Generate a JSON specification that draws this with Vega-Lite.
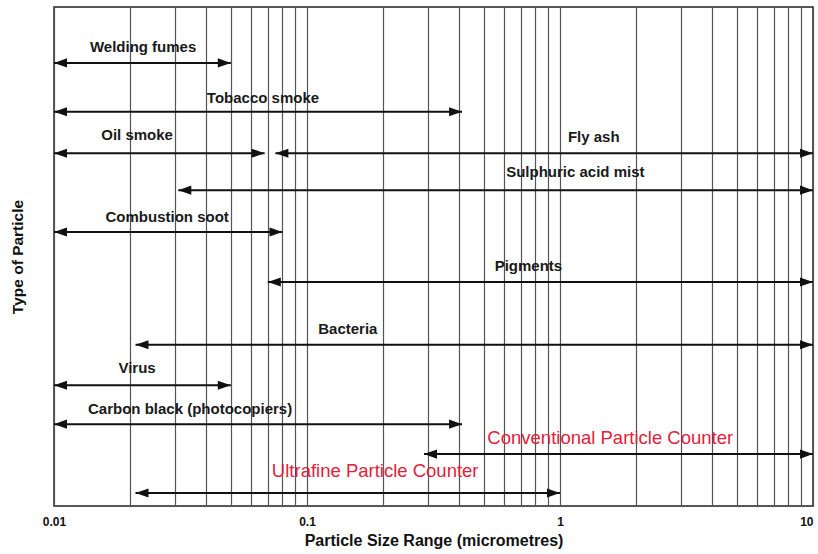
{
  "$schema": "https://vega.github.io/schema/vega-lite/v6.json",
  "width": 759,
  "height": 499,
  "autosize": "none",
  "padding": {"left": 54, "top": 7, "right": 5, "bottom": 48},
  "background": "white",
  "config": {
    "view": {"stroke": "#222", "strokeWidth": 1.5},
    "font": "Liberation Sans"
  },
  "data": {
    "values": [
      {"name": "Welding fumes", "kind": "particle", "start": 0.01, "end": 0.05, "row": 11.2, "lx": 0.0225, "ly": 8.0},
      {"name": "Tobacco smoke", "kind": "particle", "start": 0.01, "end": 0.41, "row": 21.0, "lx": 0.067, "ly": 18.2},
      {"name": "Oil smoke", "kind": "particle", "start": 0.01, "end": 0.068, "row": 29.3, "lx": 0.0213, "ly": 25.7},
      {"name": "Fly ash", "kind": "particle", "start": 0.075, "end": 10, "row": 29.3, "lx": 1.36, "ly": 26.1},
      {"name": "Sulphuric acid mist", "kind": "particle", "start": 0.031, "end": 10, "row": 36.7, "lx": 1.15, "ly": 33.1},
      {"name": "Combustion soot", "kind": "particle", "start": 0.01, "end": 0.08, "row": 45.1, "lx": 0.028, "ly": 42.1},
      {"name": "Pigments", "kind": "particle", "start": 0.07, "end": 10, "row": 55.1, "lx": 0.75, "ly": 51.9},
      {"name": "Bacteria", "kind": "particle", "start": 0.021, "end": 10, "row": 67.7, "lx": 0.145, "ly": 64.5},
      {"name": "Virus", "kind": "particle", "start": 0.01, "end": 0.05, "row": 75.8, "lx": 0.0213, "ly": 72.3},
      {"name": "Carbon black (photocopiers)", "kind": "particle", "start": 0.01, "end": 0.41, "row": 83.6, "lx": 0.0345, "ly": 80.6},
      {"name": "Conventional Particle Counter", "kind": "counter", "start": 0.29, "end": 10, "row": 89.6, "lx": 1.58, "ly": 86.4},
      {"name": "Ultrafine Particle Counter", "kind": "counter", "start": 0.021, "end": 1, "row": 97.4, "lx": 0.186, "ly": 93.0}
    ]
  },
  "layer": [
    {
      "mark": {"type": "rule", "color": "#111", "strokeWidth": 2},
      "encoding": {
        "x": {
          "field": "start", "type": "quantitative",
          "scale": {"type": "log", "domain": [0.01, 10], "nice": false},
          "axis": {
            "values": [0.01, 0.02, 0.03, 0.04, 0.05, 0.06, 0.07, 0.08, 0.09, 0.1, 0.2, 0.3, 0.4, 0.5, 0.6, 0.7, 0.8, 0.9, 1, 2, 3, 4, 5, 6, 7, 8, 9, 10],
            "labelExpr": "datum.value == 0.01 ? '0.01' : datum.value == 0.1 ? '0.1' : datum.value == 1 ? '1' : datum.value == 10 ? '10' : ''",
            "labelAlign": {"expr": "datum.value == 10 ? 'right' : 'center'"},
            "title": "Particle Size Range (micrometres)",
            "titleFont": "Liberation Sans",
            "titleFontSize": 16,
            "titleFontWeight": "bold",
            "titleColor": "#111",
            "titlePadding": 5,
            "labelFont": "Liberation Sans",
            "labelFontSize": 12,
            "labelFontWeight": "bold",
            "labelColor": "#111",
            "labelPadding": 10,
            "labelFlush": false,
            "labelOverlap": false,
            "ticks": false,
            "domain": false,
            "grid": true,
            "gridColor": "#555",
            "gridWidth": 1.2,
            "gridOpacity": 1
          }
        },
        "x2": {"field": "end"},
        "y": {
          "field": "row", "type": "quantitative",
          "scale": {"domain": [0, 100], "reverse": true, "nice": false},
          "axis": {
            "title": "Type of Particle",
            "titleFont": "Liberation Sans",
            "titleFontSize": 15.5,
            "titleFontWeight": "bold",
            "titleColor": "#111",
            "titlePadding": 29,
            "labels": false,
            "ticks": false,
            "domain": false,
            "grid": false
          }
        }
      }
    },
    {
      "mark": {"type": "point", "shape": "M0,0L2,-0.7L2,0.7Z", "filled": true, "color": "#111", "opacity": 1, "size": 169},
      "encoding": {
        "x": {"field": "start", "type": "quantitative"},
        "y": {"field": "row", "type": "quantitative"}
      }
    },
    {
      "mark": {"type": "point", "shape": "M0,0L-2,-0.7L-2,0.7Z", "filled": true, "color": "#111", "opacity": 1, "size": 169},
      "encoding": {
        "x": {"field": "end", "type": "quantitative"},
        "y": {"field": "row", "type": "quantitative"}
      }
    },
    {
      "transform": [{"filter": "datum.kind == 'particle'"}],
      "mark": {"type": "text", "font": "Liberation Sans", "fontSize": 15, "fontWeight": "bold", "color": "#1a1a1a", "baseline": "middle", "align": "center"},
      "encoding": {
        "x": {"field": "lx", "type": "quantitative"},
        "y": {"field": "ly", "type": "quantitative"},
        "text": {"field": "name"}
      }
    },
    {
      "transform": [{"filter": "datum.kind == 'counter'"}],
      "mark": {"type": "text", "font": "Liberation Sans", "fontSize": 18.5, "fontWeight": "normal", "color": "#e3213b", "baseline": "middle", "align": "center"},
      "encoding": {
        "x": {"field": "lx", "type": "quantitative"},
        "y": {"field": "ly", "type": "quantitative"},
        "text": {"field": "name"}
      }
    }
  ]
}
